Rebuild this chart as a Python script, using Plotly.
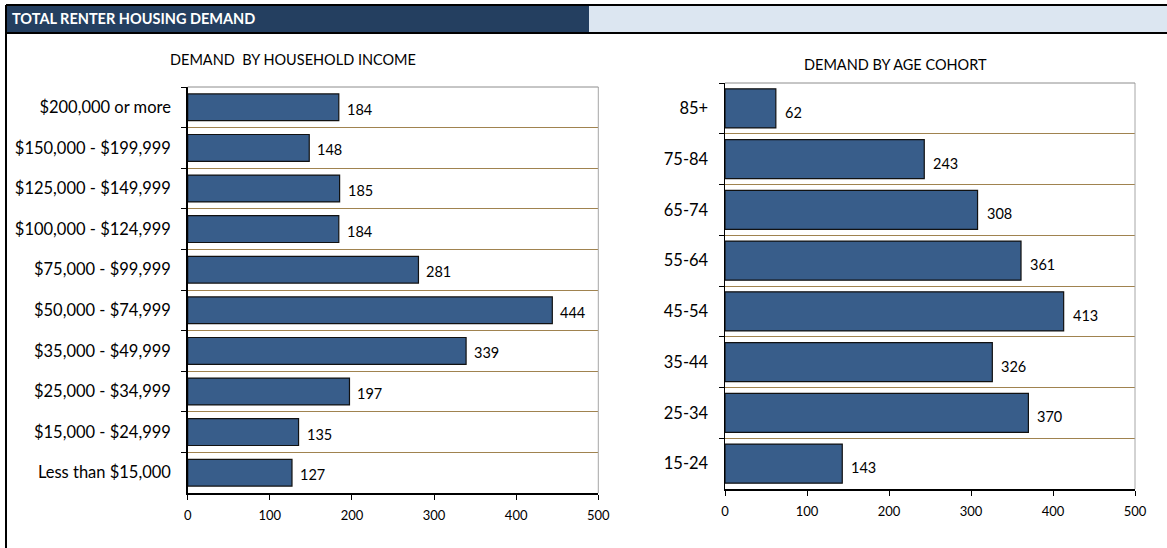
import plotly.graph_objects as go

W, H = 1167, 548

income_cats = ["$200,000 or more", "$150,000 - $199,999", "$125,000 - $149,999",
               "$100,000 - $124,999", "$75,000 - $99,999", "$50,000 - $74,999",
               "$35,000 - $49,999", "$25,000 - $34,999", "$15,000 - $24,999",
               "Less than $15,000"]
income_vals = [184, 148, 185, 184, 281, 444, 339, 197, 135, 127]

age_cats = ["85+", "75-84", "65-74", "55-64", "45-54", "35-44", "25-34", "15-24"]
age_vals = [62, 243, 308, 361, 413, 326, 370, 143]

x_ticks = [0, 100, 200, 300, 400, 500]

header_text = "TOTAL RENTER HOUSING DEMAND"
title_income = "DEMAND  BY HOUSEHOLD INCOME"
title_age = "DEMAND BY AGE COHORT"

FONT = "Lato"
BAR = "#385D8A"
GRID = "#A0834F"

def px(x):
    return x / W

def py(y):
    return 1 - y / H

fig = go.Figure()
fig.add_trace(go.Bar(x=income_vals, y=income_cats, orientation="h",
                     marker=dict(color=BAR, line=dict(color="#111111", width=1.2)),
                     xaxis="x", yaxis="y", hoverinfo="skip"))
fig.add_trace(go.Bar(x=age_vals, y=age_cats, orientation="h",
                     marker=dict(color=BAR, line=dict(color="#111111", width=1.2)),
                     xaxis="x2", yaxis="y2", hoverinfo="skip"))

common_x = dict(range=[0, 500], tickvals=x_ticks, showgrid=False, zeroline=False,
                showline=True, linecolor="black", linewidth=1.5, ticks="outside",
                ticklen=5, tickcolor="black", ticklabelstandoff=5, automargin=False,
                tickfont=dict(family=FONT, size=13, color="black"), fixedrange=True)
common_y = dict(type="category", autorange="reversed", tickson="boundaries",
                showgrid=True, gridcolor=GRID, gridwidth=1, showline=True,
                linecolor="black", linewidth=1.5, ticks="outside", ticklen=5,
                tickcolor="black", tickfont=dict(family=FONT, size=16.5, color="black"),
                ticklabelstandoff=12, automargin=False, fixedrange=True)

fig.update_layout(
    width=W, height=H, autosize=False, margin=dict(l=0, r=0, t=0, b=0, pad=0),
    paper_bgcolor="white", plot_bgcolor="white", showlegend=False,
    xaxis=dict(domain=[px(187.7), px(598.3)], anchor="y", **common_x),
    yaxis=dict(domain=[py(493), py(87)], anchor="x", **common_y),
    xaxis2=dict(domain=[px(725), px(1135)], anchor="y2", **common_x),
    yaxis2=dict(domain=[py(489), py(83)], anchor="x2", **common_y),
)
fig.update_traces(width=0.66, selector=dict(xaxis="x"))
fig.update_traces(width=0.77, selector=dict(xaxis="x2"))

annotations = []
for v, c in zip(income_vals, income_cats):
    annotations.append(dict(x=v, y=c, xref="x", yref="y", text=str(v), showarrow=False,
                            xanchor="left", xshift=6, yshift=-2,
                            font=dict(family=FONT, size=14.5, color="black")))
for v, c in zip(age_vals, age_cats):
    annotations.append(dict(x=v, y=c, xref="x2", yref="y2", text=str(v), showarrow=False,
                            xanchor="left", xshift=7, yshift=-4,
                            font=dict(family=FONT, size=14.5, color="black")))
annotations.append(dict(x=px(292.5), y=py(60), xref="paper", yref="paper", text=title_income,
                        showarrow=False, xanchor="center", yanchor="middle",
                        font=dict(family=FONT, size=14.5, color="black")))
annotations.append(dict(x=px(895), y=py(65), xref="paper", yref="paper", text=title_age,
                        showarrow=False, xanchor="center", yanchor="middle",
                        font=dict(family=FONT, size=14.5, color="black")))
annotations.append(dict(x=px(10), y=py(19), xref="paper", yref="paper", text="<b>" + header_text + "</b>",
                        showarrow=False, xanchor="left", yanchor="middle",
                        font=dict(family=FONT, size=14.5, color="white")))
fig.update_layout(annotations=annotations)

shapes = [
    dict(type="rect", xref="paper", yref="paper", x0=px(6), x1=px(589), y0=py(33), y1=py(5),
         fillcolor="#243F60", line=dict(width=0), layer="below"),
    dict(type="rect", xref="paper", yref="paper", x0=px(589), x1=1, y0=py(33), y1=py(5),
         fillcolor="#DCE6F1", line=dict(width=0), layer="below"),
    dict(type="line", xref="paper", yref="paper", x0=px(6), x1=1, y0=py(5), y1=py(5),
         line=dict(color="black", width=2)),
    dict(type="line", xref="paper", yref="paper", x0=px(6), x1=1, y0=py(33), y1=py(33),
         line=dict(color="black", width=2)),
    dict(type="line", xref="paper", yref="paper", x0=px(6), x1=px(6), y0=0, y1=py(5),
         line=dict(color="black", width=2)),
    dict(type="line", xref="x domain", yref="y domain", x0=1, x1=1, y0=0, y1=1,
         line=dict(color="#A6A6A6", width=1)),
    dict(type="line", xref="x2 domain", yref="y2 domain", x0=1, x1=1, y0=0, y1=1,
         line=dict(color="#A6A6A6", width=1)),
    dict(type="line", xref="x domain", yref="y domain", x0=0, x1=1, y0=1, y1=1,
         line=dict(color="#8C8C8C", width=1)),
    dict(type="line", xref="x2 domain", yref="y2 domain", x0=0, x1=1, y0=1, y1=1,
         line=dict(color="#8C8C8C", width=1)),
]
fig.update_layout(shapes=shapes)

fig.write_html("out.html",
               config={"responsive": False, "displayModeBar": False, "staticPlot": True},
               post_script=("document.body.style.margin='0';document.body.style.padding='0';"
                            "document.documentElement.style.overflow='hidden';"))
